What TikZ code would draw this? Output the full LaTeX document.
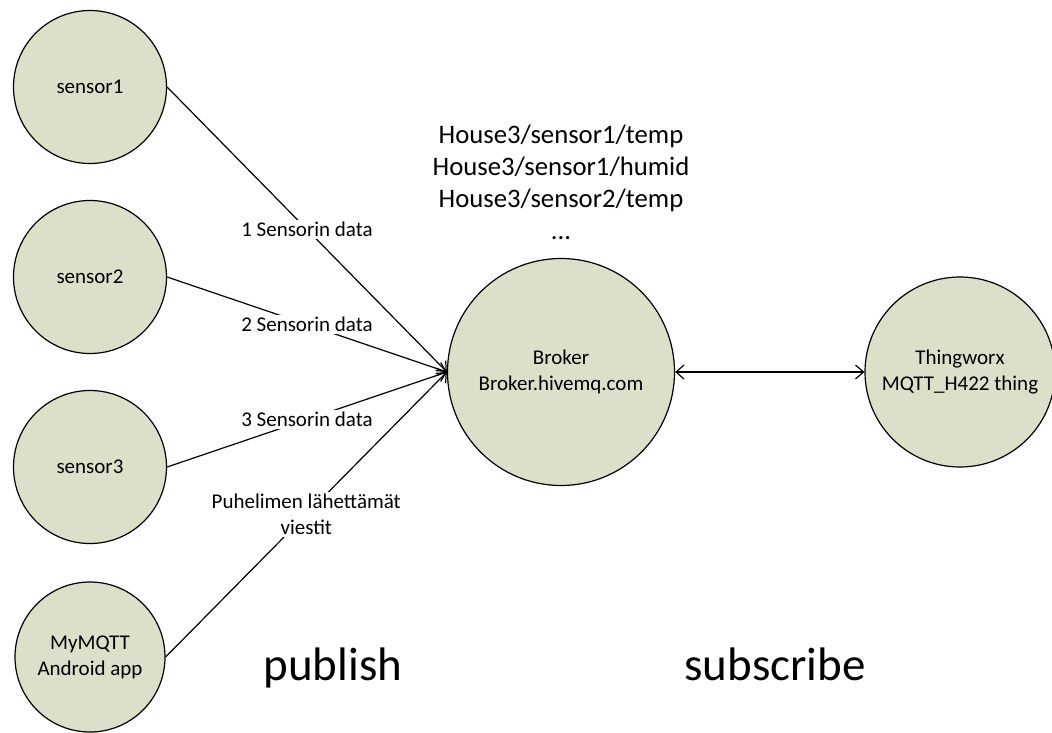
\documentclass[tikz,border=0pt]{standalone}
\usepackage{fontspec}
\setmainfont{Carlito}
\usepackage{tikz}
\usetikzlibrary{arrows.meta,positioning}
\usepackage{xcolor}
\definecolor{nodefill}{RGB}{220,224,203}

\newcommand{\smalltext}{\fontsize{21}{26}\selectfont}
\newcommand{\topictext}{\fontsize{26.7}{32}\selectfont}
\newcommand{\bigtext}{\fontsize{47}{56}\selectfont}

\begin{document}
\begin{tikzpicture}[x=1pt,y=-1pt]
\useasboundingbox (0,0) rectangle (1052,733);
\begin{scope}[every node/.style={circle,draw,line width=1.2pt,fill=nodefill,inner sep=0pt,align=center,font=\smalltext}]
	\node[minimum size=153pt] (sensor1) at (90,87) {sensor1};
	\node[minimum size=153pt] (sensor2) at (90,277) {sensor2};
	\node[minimum size=153pt] (sensor3) at (90,467) {sensor3};
	\node[minimum size=150pt] (app) at (90,657) {MyMQTT\\Android app};

	\node[minimum size=227pt] (broker) at (561,372) {Broker\\Broker.hivemq.com};

	\node[minimum size=190pt] (thingworx) at (960,372) {Thingworx\\MQTT\_H422 thing};
\end{scope}

\node[align=center,font=\topictext] (topics) at (561,182) {House3/sensor1/temp\\
House3/sensor1/humid\\
House3/sensor2/temp\\
...};

\node[anchor=base,font=\bigtext] (publish) at (333,680) {publish};
\node[anchor=base,font=\bigtext] (subscribe) at (775,680) {subscribe};

\begin{scope}[every node/.style={fill=white,inner sep=2pt,align=center,font=\smalltext}]
	\draw[line width=1.2pt,-{Straight Barb[length=8pt,width=14pt]}] (sensor1.east) -- node[midway] {1 Sensorin data} (broker.west);
	\draw[line width=1.2pt,-{Straight Barb[length=8pt,width=14pt]}] (sensor2.east) -- node[midway] {2 Sensorin data} (broker.west);
	\draw[line width=1.2pt,-{Straight Barb[length=8pt,width=14pt]}] (sensor3.east) -- node[midway] {3 Sensorin data} (broker.west);
	\draw[line width=1.2pt,-{Straight Barb[length=8pt,width=14pt]}] (app.east) -- node[midway] {Puhelimen lähettämät\\viestit} (broker.west);
	\draw[line width=1.2pt,{Straight Barb[length=8pt,width=14pt]}-{Straight Barb[length=8pt,width=14pt]}] (broker) -- (thingworx);
\end{scope}
\end{tikzpicture}
\end{document}
